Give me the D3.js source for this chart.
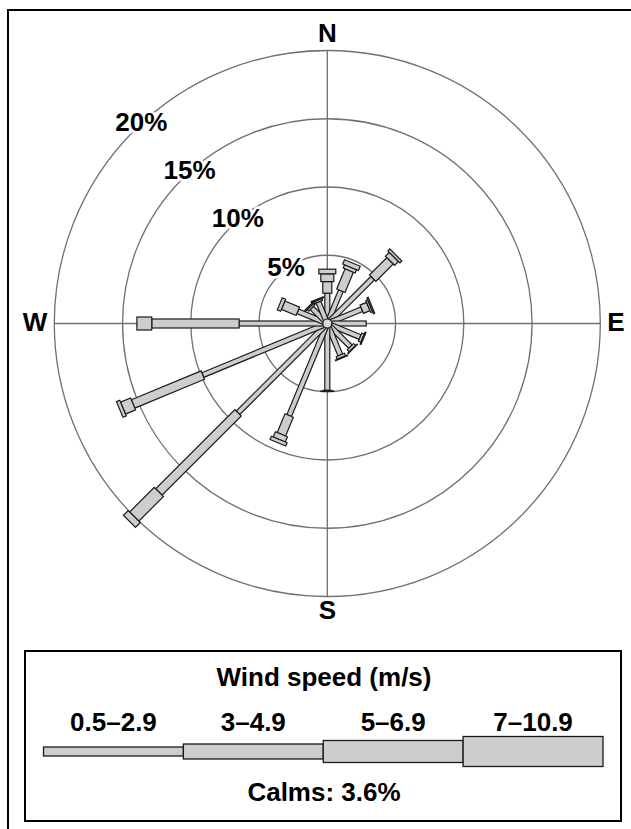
<!DOCTYPE html>
<html>
<head>
<meta charset="utf-8">
<script src="https://cdn.jsdelivr.net/npm/d3@7/dist/d3.min.js"></script>
<style>
  body { margin: 0; background: #fff; }
  text { font-family: "Liberation Sans", Arial, Helvetica, sans-serif; font-weight: bold; fill: #000; }
</style>
</head>
<body>
<div id="chart"></div>
<script>
// directions (degrees clockwise from north)
const directions = [0, 22.5, 45, 67.5, 90, 112.5, 135, 157.5, 180, 202.5, 225, 247.5, 270, 292.5, 315, 337.5];
const speedClasses = ["0.5–2.9", "3–4.9", "5–6.9", "7–10.9"];
// frequency (%) per direction, one array per speed class
const speedA = [2.22, 2.6, 4.7, 2.73, 2.85, 2.6, 2.4, 2.5, 4.9, 7.3, 9.25, 9.87, 6.46, 2.34, 1.6, 1.7];
const speedB = [0.85, 1.6, 1.8, 0.52, 0, 0.2, 0.2, 0.2, 0.05, 1.48, 8.2, 5.53, 6.4, 1.16, 0.15, 0.15];
const speedC = [0.57, 0.26, 0.4, 0.15, 0, 0.07, 0.04, 0.05, 0.03, 0.42, 2.55, 0.8, 1.09, 0.27, 0.1, 0.08];
const speedD = [0.34, 0.34, 0.2, 0.1, 0, 0, 0, 0, 0, 0.26, 0.5, 0.26, 0, 0, 0, 0];
const ringTicks = [5, 10, 15, 20];
const compass = ["N", "E", "S", "W"];
const calms = 3.6;

class WindRose {
  constructor(config) {
    this.config = config;
    this.init();
  }

  init() {
    const c = this.config;
    this.svg = d3.select(c.parent)
      .append("svg")
      .attr("width", c.width)
      .attr("height", c.height);

    // outer frame (runs off the right / bottom edge)
    this.svg.append("rect")
      .attr("x", 8).attr("y", 10)
      .attr("width", 660).attr("height", 860)
      .attr("fill", "none")
      .attr("stroke", "#000")
      .attr("stroke-width", 2);

    this.chart = this.svg.append("g")
      .attr("transform", `translate(${c.cx}, ${c.cy})`);

    this.r = d3.scaleLinear().domain([0, 20]).range([0, c.radius]);
    this.barWidth = d3.scaleOrdinal().domain(speedClasses).range(c.barWidths);
  }

  update(rows) {
    this.series = d3.stack().keys(speedClasses)(rows);
    this.render();
  }

  render() {
    const r = this.r, chart = this.chart;
    const R = r(20);

    // rings
    chart.selectAll("circle.ring")
      .data(ringTicks)
      .join("circle")
      .attr("class", "ring")
      .attr("r", d => r(d))
      .attr("fill", "none")
      .attr("stroke", "#707070")
      .attr("stroke-width", 1.3);

    // cross lines
    chart.append("line").attr("x1", -R).attr("x2", R).attr("y1", 0).attr("y2", 0)
      .attr("stroke", "#707070").attr("stroke-width", 1.3);
    chart.append("line").attr("y1", -R).attr("y2", R).attr("x1", 0).attr("x2", 0)
      .attr("stroke", "#707070").attr("stroke-width", 1.3);

    // bars: one rect per speed class per direction
    const segs = [];
    this.series.forEach(s => {
      s.forEach(d => {
        if (d[1] - d[0] > 0) segs.push({ key: s.key, dir: d.data.dir, y0: d[0], y1: d[1] });
      });
    });

    chart.selectAll("rect.seg")
      .data(segs)
      .join("rect")
      .attr("class", "seg")
      .attr("transform", d => `rotate(${d.dir})`)
      .attr("x", d => -this.barWidth(d.key) / 2)
      .attr("y", d => -r(d.y1))
      .attr("width", d => this.barWidth(d.key))
      .attr("height", d => r(d.y1) - r(d.y0))
      .attr("fill", "#cdcdcd")
      .attr("stroke", "#1a1a1a")
      .attr("stroke-width", 1.2);

    chart.append("circle")
      .attr("r", 4.5)
      .attr("fill", "#d8d8d8")
      .attr("stroke", "#1a1a1a")
      .attr("stroke-width", 1.2);

    // ring labels (NW side)
    chart.selectAll("text.tick")
      .data(ringTicks)
      .join("text")
      .attr("class", "tick")
      .attr("x", d => -r(d) * Math.SQRT1_2 + 7)
      .attr("y", d => -r(d) * Math.SQRT1_2 + 0.5)
      .attr("text-anchor", "middle")
      .attr("font-size", 26)
      .attr("stroke", "#fff")
      .attr("stroke-width", 5)
      .attr("paint-order", "stroke")
      .text(d => d + "%");

    // compass labels
    const pos = {
      N: [0, -R - 8.5, "middle"],
      E: [R + 7, 7, "start"],
      S: [0, R + 22.5, "middle"],
      W: [-R - 7, 7, "end"]
    };
    chart.selectAll("text.compass")
      .data(compass)
      .join("text")
      .attr("class", "compass")
      .attr("x", d => pos[d][0])
      .attr("y", d => pos[d][1])
      .attr("text-anchor", d => pos[d][2])
      .attr("font-size", 26)
      .text(d => d);
  }
}

function drawLegend(svg) {
  const box = { x: 25, y: 651, w: 596, h: 170 };
  const g = svg.append("g");
  g.append("rect")
    .attr("x", box.x).attr("y", box.y)
    .attr("width", box.w).attr("height", box.h)
    .attr("fill", "#fff")
    .attr("stroke", "#000")
    .attr("stroke-width", 2);

  g.append("text")
    .attr("x", 324).attr("y", 686)
    .attr("text-anchor", "middle")
    .attr("font-size", 26)
    .text("Wind speed (m/s)");

  const x = d3.scaleBand().domain(speedClasses).range([43.5, 603]);
  const h = d3.scaleOrdinal().domain(speedClasses).range([9, 15, 22, 30]);
  const midY = 751.5;

  g.selectAll("rect.key")
    .data(speedClasses)
    .join("rect")
    .attr("class", "key")
    .attr("x", d => x(d))
    .attr("y", d => midY - h(d) / 2)
    .attr("width", x.bandwidth())
    .attr("height", d => h(d))
    .attr("fill", "#cdcdcd")
    .attr("stroke", "#1a1a1a")
    .attr("stroke-width", 1.3);

  g.selectAll("text.key")
    .data(speedClasses)
    .join("text")
    .attr("class", "key")
    .attr("x", d => x(d) + x.bandwidth() / 2)
    .attr("y", 731)
    .attr("text-anchor", "middle")
    .attr("font-size", 26)
    .text(d => d);

  g.append("text")
    .attr("x", 324).attr("y", 801)
    .attr("text-anchor", "middle")
    .attr("font-size", 26)
    .text(`Calms: ${calms}%`);
}

const rows = directions.map((dir, i) => ({
  dir: dir,
  [speedClasses[0]]: speedA[i],
  [speedClasses[1]]: speedB[i],
  [speedClasses[2]]: speedC[i],
  [speedClasses[3]]: speedD[i]
}));

const rose = new WindRose({
  parent: "#chart",
  width: 631, height: 829,
  cx: 327.3, cy: 323.5, radius: 273,
  barWidths: [5, 9, 13, 17]
});
rose.update(rows);
drawLegend(rose.svg);
</script>
</body>
</html>
